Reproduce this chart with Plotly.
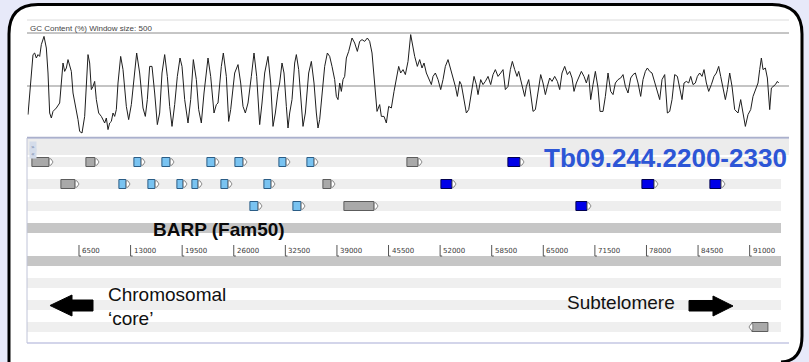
import plotly.graph_objects as go

# ---------------- data ----------------
gc_position = [
    76, 496, 706, 916, 1126, 1336, 1546, 1756, 2092, 2386,
    2596, 2806, 3016, 3226, 3646, 4066, 4276, 4486, 4696, 4906,
    5116, 5326, 5536, 5746, 6166, 6376, 6586, 6880, 7216, 7426,
    7636, 7846, 8056, 8266, 8476, 8686, 8980, 9316, 9736, 9946,
    10156, 10366, 10576, 10786, 10996, 11206, 11416, 11752, 12046, 12466,
    12760, 13096, 13432, 13768, 14146, 14566, 14860, 15112, 15406, 15700,
    16036, 16372, 16666, 16960, 17296, 17632, 17926, 18220, 18556, 18892,
    19228, 19480, 19816, 20236, 20572, 20908, 21286, 21580, 21916, 22252,
    22756, 23092, 23512, 23806, 24016, 24436, 24688, 25066, 25360, 25612,
    26116, 26536, 26872, 27166, 27460, 27796, 28216, 28552, 28888, 29266,
    29560, 29896, 30316, 30652, 30946, 31240, 31576,
    31786, 32080, 32332, 32626, 32836, 33046, 33340, 33676, 33886, 34180,
    34432, 34726, 35020, 35440, 35776, 36112, 36406, 36616, 36826, 37036,
    37456, 37792, 38086, 38380, 38716, 38926, 39136, 39346, 39556, 39766,
    39976, 40186, 40480, 40900, 41236, 41572, 41866, 42160, 42496, 42832,
    43126, 43420, 43756, 44050, 44386, 44596, 44932, 45226, 45520, 45856,
    46192, 46486, 46780, 47032, 47326, 47620, 47956, 48292, 48586, 48796,
    49132, 49426, 49720, 49972, 50266, 50560, 50896, 51106, 51400, 51736,
    52072, 52366, 52660, 52996, 53290, 53626, 53920, 54172, 54466, 54676,
    55012, 55306, 55600, 55936, 56272, 56566, 56776, 57112, 57406, 57700,
    58036, 58372, 58666, 58960, 59296, 59632, 59926, 60220, 60556, 60850,
    61102, 61396, 61690, 61900, 62152, 62446, 62656, 62866, 63160,
    63286, 63496, 63706, 64000, 64336, 64672, 64966, 65260, 65512, 65806,
    66100, 66436, 66772, 67066, 67360, 67696, 68032, 68326, 68620, 68872,
    69166, 69460, 69796, 70132, 70426, 70720, 70972, 71266, 71560, 71896,
    72148, 72526, 72820, 73156, 73492, 73786, 74080, 74416, 74752, 75046,
    75340, 75676, 76012, 76306, 76600, 76936, 77272, 77566, 77860, 78112,
    78406, 78700, 79036, 79372, 79666, 79960, 80296, 80632, 80926, 81220,
    81556, 81892, 82186, 82480, 82732, 83026, 83320, 83572, 83866, 84160,
    84412, 84706, 85000, 85252, 85546, 85840, 86176, 86512, 86806, 87100,
    87352, 87646, 87940, 88192, 88486, 88780, 89116, 89536, 89872, 90166,
    90460, 90796, 91132, 91426, 91720, 92056, 92266, 92476, 92686, 92980,
    93232, 93526, 93736, 94030, 94240, 94492, 94660,
]
gc_percent = [
    35.7, 54.8, 65.7, 66.5, 64.0, 65.7, 64.8, 70.7, 74.8, 69.0,
    56.5, 36.5, 34.0, 37.3, 39.0, 41.5, 51.5, 61.5, 57.3, 59.0,
    63.2, 59.8, 57.3, 46.5, 38.2, 33.2, 27.3, 26.5, 34.8, 48.2,
    65.7, 61.5, 48.2, 49.8, 52.3, 43.2, 36.5, 34.8, 31.5, 34.0,
    28.2, 31.5, 32.3, 36.5, 34.8, 38.2, 51.5, 64.8, 58.2, 39.8,
    33.2, 40.7, 53.2, 66.5, 56.5, 39.0, 34.8, 43.2, 59.8, 59.8,
    46.5, 30.7, 36.5, 56.5, 65.7, 54.8, 39.8, 29.8, 40.7, 54.8,
    64.0, 59.8, 43.2, 31.5, 43.2, 63.2, 53.2, 38.2, 31.5, 46.5,
    64.0, 54.8, 36.5, 40.7, 41.5, 59.8, 66.5, 54.8, 32.3, 38.2,
    56.5, 60.7, 51.5, 39.8, 36.5, 41.5, 54.8, 66.5, 54.8, 30.7,
    41.5, 56.5, 64.8, 51.5, 29.8, 36.5, 47.3,
    51.5, 61.5, 56.5, 39.8, 29.0, 36.5, 43.2, 61.5, 65.7, 58.2,
    43.2, 29.8, 36.5, 56.5, 62.3, 51.5, 36.5, 29.0, 33.2, 43.2,
    59.8, 66.5, 64.8, 59.8, 53.2, 44.8, 43.2, 51.5, 47.3, 53.2,
    54.8, 64.0, 67.3, 74.0, 71.5, 67.3, 72.3, 73.2, 72.3, 74.0,
    72.3, 66.5, 51.5, 37.3, 40.7, 34.8, 34.8, 31.5, 39.8, 39.0,
    47.3, 54.0, 59.8, 56.5, 58.2, 55.7, 62.3, 75.7, 69.0, 64.8,
    59.8, 63.2, 59.0, 61.5, 56.5, 54.0, 50.7, 54.8, 56.5, 53.2,
    48.2, 53.2, 59.8, 63.2, 59.0, 54.8, 49.8, 44.8, 52.3, 50.7,
    43.2, 36.5, 38.2, 45.7, 54.8, 50.7, 45.7, 53.2, 50.7, 52.3,
    54.8, 50.7, 55.7, 58.2, 54.8, 56.5, 58.2, 48.2, 49.8, 58.2,
    62.3, 58.2, 54.8, 57.3, 53.2, 49.8, 44.8, 49.8, 53.2,
    49.8, 43.2, 37.3, 38.2, 48.2, 55.7, 51.5, 45.7, 49.8, 54.0,
    52.3, 54.8, 52.3, 48.2, 56.5, 59.8, 55.7, 57.3, 54.0, 47.3,
    51.5, 54.0, 57.3, 54.8, 51.5, 55.7, 43.2, 50.7, 57.3, 49.0,
    37.3, 37.3, 44.8, 56.5, 47.3, 45.7, 51.5, 53.2, 54.0, 55.7,
    49.8, 46.5, 54.0, 55.7, 56.5, 51.5, 44.8, 53.2, 57.3, 59.0,
    57.3, 56.5, 51.5, 47.3, 43.2, 53.2, 55.7, 36.5, 37.3, 43.2,
    55.7, 54.8, 48.2, 43.2, 51.5, 52.3, 51.5, 54.8, 50.7, 51.5,
    54.8, 56.5, 54.8, 58.2, 51.5, 47.3, 50.7, 54.8, 56.5, 59.8,
    54.8, 49.8, 43.2, 48.2, 56.5, 49.8, 38.2, 36.5, 43.2, 36.5,
    29.8, 35.7, 38.2, 44.8, 48.2, 51.5, 58.2, 64.0, 58.2, 59.0,
    54.0, 38.2, 49.0, 49.8, 50.7, 52.3, 51.5,
]
assert len(gc_position) == len(gc_percent)
gc_reference = 50.0

gene_start = [580, 7384, 13432, 16960, 22630, 26158, 31702, 35230, 47830, 60556,
              4234, 11542, 15196, 18850, 20740, 24394, 29812, 37246, 52114, 77440, 86008,
              28048, 33466, 39892, 69124,
              90920]
gene_end = [3226, 9022, 14818, 18472, 24142, 27670, 33088, 36616, 49720, 62572,
            6502, 12928, 16582, 20110, 22000, 25780, 31198, 38758, 54004, 79456, 87898,
            29560, 34978, 44176, 71014,
            93314]
gene_track = [1] * 10 + [2] * 11 + [3] * 4 + [4]
gene_strand = [1] * 25 + [-1]
gene_class = ["other", "other", "barp", "barp", "barp", "barp", "barp", "barp", "other", "target",
              "other", "barp", "barp", "barp", "barp", "barp", "barp", "other", "target", "target", "target",
              "barp", "barp", "other", "target",
              "other"]

scale_ticks = [6500, 13000, 19500, 26000, 32500, 39000, 45500,
               52000, 58500, 65000, 71500, 78000, 84500, 91000]
scale_labels = ["6500", "13000", "19500", "26000", "32500", "39000", "45500",
                "52000", "58500", "65000", "71500", "78000", "84500", "91000"]

gc_title = "GC Content (%) Window size: 500"
region_label = "Tb09.244.2200-2330"
family_label = "BARP (Fam50)"
left_label = ["Chromosomal", "\u2018core\u2019"]
right_label = "Subtelomere"

# ---------------- layout helpers ----------------
W, H = 809, 362
X0_PX, X1_PX = 27.4, 781.0
X_MAX = 94950


def px(x):
    return x / W


def py(y):
    return 1 - y / H


def P(a, b):
    return f"{px(a):.5f},{py(b):.5f}"


def poly_path(points):
    parts = []
    for i, (a, b) in enumerate(points):
        parts.append(("M " if i == 0 else "L ") + P(a, b))
    return " ".join(parts) + " Z"


TRACK_Y = {1: 162, 2: 184, 3: 206, 4: 327}
BODY_H = 9
TIP_BP = 480
TIP_HALF = 3.2
CLASS_FILL = {"other": "#a9a9a9", "barp": "#79c3f1", "target": "#0000e8"}
CLASS_LINE = {"other": "#5c5c5c", "barp": "#2b5d86", "target": "#000050"}

fig = go.Figure()

# GC content line
fig.add_trace(go.Scatter(x=gc_position, y=gc_percent, mode="lines",
                         line=dict(color="#1e1e1e", width=1), xaxis="x", yaxis="y",
                         hoverinfo="skip"))

# gene bodies
for cls in ["other", "barp", "target"]:
    idx = [i for i, c in enumerate(gene_class) if c == cls]
    base, length, yy = [], [], []
    for i in idx:
        if gene_strand[i] > 0:
            b0, b1 = gene_start[i], gene_end[i] - TIP_BP
        else:
            b0, b1 = gene_start[i] + TIP_BP, gene_end[i]
        base.append(b0)
        length.append(b1 - b0)
        yy.append(TRACK_Y[gene_track[i]])
    fig.add_trace(go.Bar(orientation="h", base=base, x=length, y=yy, width=BODY_H,
                         marker=dict(color=CLASS_FILL[cls], line=dict(color=CLASS_LINE[cls], width=1)),
                         xaxis="x", yaxis="y2", hoverinfo="skip"))

# gene direction tips
tx, ty = [], []
for i in range(len(gene_start)):
    yc = TRACK_Y[gene_track[i]]
    if gene_strand[i] > 0:
        be = gene_end[i] - TIP_BP
        mid = be + TIP_BP * 0.45
        pts = [(be, yc - TIP_HALF), (mid, yc - TIP_HALF), (gene_end[i], yc),
               (mid, yc + TIP_HALF), (be, yc + TIP_HALF), (be, yc - TIP_HALF)]
    else:
        bs = gene_start[i] + TIP_BP
        mid = bs - TIP_BP * 0.45
        pts = [(bs, yc - TIP_HALF), (mid, yc - TIP_HALF), (gene_start[i], yc),
               (mid, yc + TIP_HALF), (bs, yc + TIP_HALF), (bs, yc - TIP_HALF)]
    for a, b in pts:
        tx.append(a)
        ty.append(b)
    tx.append(None)
    ty.append(None)
fig.add_trace(go.Scatter(x=tx, y=ty, mode="lines", fill="toself", fillcolor="white",
                         line=dict(color="#6e6e6e", width=0.8), xaxis="x", yaxis="y2",
                         hoverinfo="skip"))

# scale ticks (L-shaped)
kx, ky = [], []
for t in scale_ticks:
    kx += [t, t, t + 260, None]
    ky += [245, 256, 256, None]
fig.add_trace(go.Scatter(x=kx, y=ky, mode="lines", line=dict(color="#555555", width=1),
                         xaxis="x", yaxis="y2", hoverinfo="skip"))

annotations = []
for t, lab in zip(scale_ticks, scale_labels):
    annotations.append(dict(x=t, y=250.5, xref="x", yref="y2", text=lab, showarrow=False,
                            xanchor="left", yanchor="middle", xshift=1,
                            font=dict(family="DejaVu Sans", size=7, color="#3a3a3a")))

# ---------------- decoration shapes ----------------
shapes = []
# outer rounded panel: white fill (kept inside the page) + border pieces
fill_path = ("M " + P(9, 34) + " Q " + P(9, 4.5) + " " + P(38, 4.5) + " L " + P(772, 4.5) +
             " Q " + P(802, 4.5) + " " + P(802, 34) + " L " + P(802, 338) +
             " Q " + P(802, 362) + " " + P(780, 362) + " L " + P(9, 362) + " Z")
shapes.append(dict(type="path", path=fill_path, xref="paper", yref="paper", layer="below",
                   fillcolor="white", line=dict(width=0)))
border_pieces = [
    "M " + P(9, 362) + " L " + P(9, 34),
    "M " + P(9, 34) + " Q " + P(9, 4.5) + " " + P(38, 4.5),
    "M " + P(38, 4.5) + " L " + P(772, 4.5),
    "M " + P(772, 4.5) + " Q " + P(802, 4.5) + " " + P(802, 34),
    "M " + P(802, 34) + " L " + P(802, 336),
    "M " + P(802, 336) + " Q " + P(802, 361) + " " + P(781, 362),
]
for bp in border_pieces:
    shapes.append(dict(type="path", path=bp, xref="paper", yref="paper", layer="above",
                       fillcolor="rgba(0,0,0,0)", line=dict(color="black", width=3)))


def hband(y0, y1, color, x0=27, x1=781):
    shapes.append(dict(type="rect", xref="paper", yref="paper", layer="below",
                       x0=px(x0), x1=px(x1), y0=py(y1), y1=py(y0),
                       fillcolor=color, line=dict(width=0)))


def hline(y, color, width=1, x0=27, x1=789):
    shapes.append(dict(type="line", xref="paper", yref="paper", layer="below",
                       x0=px(x0), x1=px(x1), y0=py(y), y1=py(y),
                       line=dict(color=color, width=width)))


hline(20, "#dcdcdc")
hline(33, "#8c8c8c")
hband(138, 155, "#ececec", x1=789)
for y0 in (157, 179, 201):
    hband(y0, y0 + 10, "#eeeeee")
hband(223, 233, "#c6c6c6")
hband(256, 266, "#c6c6c6")
for y0 in (278, 300, 322):
    hband(y0, y0 + 10, "#efefef")
hline(137.5, "#aab0cc", 1.5)
hline(138.5, "#c4c8dc", 1)
hline(343, "#a8acd6", 1.2)
shapes.append(dict(type="line", xref="paper", yref="paper", layer="below",
                   x0=px(27), x1=px(27), y0=py(138), y1=py(343),
                   line=dict(color="#c0c4d8", width=1)))
# GC 50% reference line
shapes.append(dict(type="line", xref="paper", yref="y", layer="below",
                   x0=px(27), x1=px(789), y0=gc_reference, y1=gc_reference,
                   line=dict(color="#c4c4c4", width=2)))

# direction arrows
left_arrow = poly_path([(50, 305.5), (72, 295), (72, 300), (93, 300), (93, 311), (72, 311), (72, 316)])
right_arrow = poly_path([(733, 306), (713, 296), (713, 300.5), (689, 300.5), (689, 311), (713, 311), (713, 316)])
for p in (left_arrow, right_arrow):
    shapes.append(dict(type="path", path=p, xref="paper", yref="paper",
                       fillcolor="black", line=dict(color="black", width=1)))

# ---------------- text ----------------
annotations += [
    dict(x=px(27.5), y=py(28.5), xref="paper", yref="paper", text=gc_title, showarrow=False,
         xanchor="left", yanchor="middle", font=dict(family="Liberation Sans", size=8, color="#444444")),
    dict(x=px(29), y=py(146.5), xref="paper", yref="paper", text="\u00bb", showarrow=False,
         xanchor="left", yanchor="middle", bgcolor="#d4dcea",
         font=dict(family="DejaVu Sans", size=6, color="#5a6f9a")),
    dict(x=px(29), y=py(153), xref="paper", yref="paper", text="\u00ab", showarrow=False,
         xanchor="left", yanchor="middle", bgcolor="#d4dcea",
         font=dict(family="DejaVu Sans", size=6, color="#5a6f9a")),
    dict(x=px(542), y=py(157.5), xref="paper", yref="paper", text="<b>" + region_label + "</b>",
         showarrow=False, xanchor="left", yanchor="middle",
         font=dict(family="Liberation Sans", size=26, color="#2d56d6")),
    dict(x=px(151), y=py(229), xref="paper", yref="paper", text="<b>" + family_label + "</b>",
         showarrow=False, xanchor="left", yanchor="middle",
         font=dict(family="Liberation Sans", size=19, color="#0a0a0a")),
    dict(x=px(105.5), y=py(294.5), xref="paper", yref="paper", text=left_label[0],
         showarrow=False, xanchor="left", yanchor="middle",
         font=dict(family="Liberation Sans", size=19, color="#111111")),
    dict(x=px(105.5), y=py(318.5), xref="paper", yref="paper", text=left_label[1],
         showarrow=False, xanchor="left", yanchor="middle",
         font=dict(family="Liberation Sans", size=19, color="#111111")),
    dict(x=px(564.5), y=py(302.5), xref="paper", yref="paper", text=right_label,
         showarrow=False, xanchor="left", yanchor="middle",
         font=dict(family="Liberation Sans", size=19, color="#111111")),
]

fig.update_layout(
    width=W, height=H, margin=dict(l=0, r=0, t=0, b=0, pad=0),
    paper_bgcolor="#e7e9f9", plot_bgcolor="rgba(0,0,0,0)",
    showlegend=False, barmode="overlay", bargap=0,
    xaxis=dict(domain=[px(X0_PX), px(X1_PX)], range=[0, X_MAX], visible=False, anchor="y2"),
    yaxis=dict(domain=[py(137), py(33)], range=[24.5, 76.5], visible=False, anchor="x"),
    yaxis2=dict(domain=[py(343), py(138)], range=[343, 138], visible=False, anchor="x"),
    shapes=shapes, annotations=annotations,
    hovermode=False,
)

fig.write_html("out.html", config={"displayModeBar": False},
               post_script="document.body.style.margin='0';document.body.style.background='#e7e9f9';")
